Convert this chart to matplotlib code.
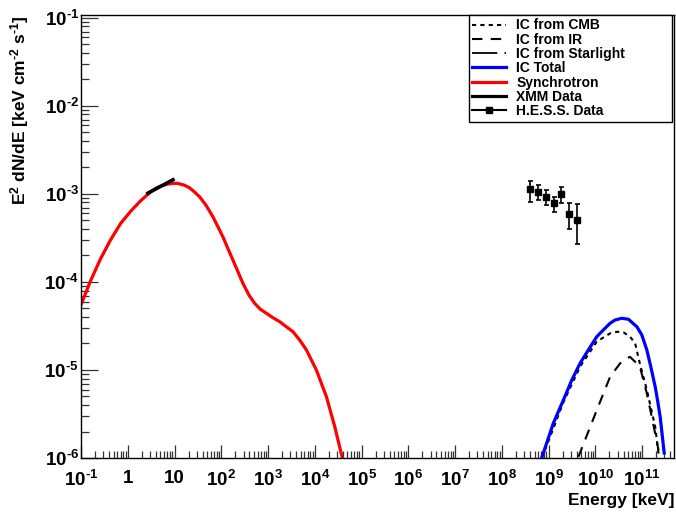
import numpy as np
import matplotlib
matplotlib.use("Agg")
import matplotlib.pyplot as plt
from matplotlib.lines import Line2D
from matplotlib.ticker import FixedLocator, FixedFormatter, NullFormatter

plt.rcParams['font.family'] = ['Liberation Sans', 'DejaVu Sans']
plt.rcParams['font.weight'] = 'bold'
plt.rcParams['mathtext.fontset'] = 'custom'
plt.rcParams['mathtext.rm'] = 'Liberation Sans:bold'
plt.rcParams['mathtext.it'] = 'Liberation Sans:bold:italic'
plt.rcParams['mathtext.bf'] = 'Liberation Sans:bold'

# ---------------- data ----------------
sync_E = [0.1, 0.16, 0.26, 0.43, 0.71, 1.16, 1.9, 3.1, 3.98, 5.1, 6.84, 9.1, 11.6,
          16.1, 20.7, 26.4, 34.3, 46.8, 66.1, 84.5, 108, 138, 177, 290, 390, 516,
          684, 920, 1270, 1770, 3410, 4750, 6610, 10800, 13800, 17700, 26700, 39000]
sync_F = [5.5e-5, 1.03e-4, 1.82e-4, 3.02e-4, 4.65e-4, 6.38e-4, 8.4e-4, 1.06e-3,
          1.16e-3, 1.23e-3, 1.29e-3, 1.32e-3, 1.32e-3, 1.26e-3, 1.18e-3, 1.06e-3,
          9.3e-4, 7.48e-4, 5.52e-4, 4.25e-4, 3.27e-4, 2.41e-4, 1.78e-4, 9.66e-5,
          7.1e-5, 5.73e-5, 4.9e-5, 4.41e-5, 3.93e-5, 3.54e-5, 2.72e-5, 2.19e-5,
          1.69e-5, 1.0e-5, 7.06e-6, 4.98e-6, 2.27e-6, 9.9e-7]

ictot_E = [7.1e8, 1.26e9, 2.07e9, 3.13e9, 4.7e9, 7.08e9, 1.07e10, 1.48e10, 2.07e10,
           2.64e10, 3.67e10, 5.09e10, 7.7e10, 9.84e10, 1.26e11, 1.53e11, 1.9e11,
           2.13e11, 2.43e11, 2.96e11]
ictot_F = [1.0e-6, 2.48e-6, 4.56e-6, 7.69e-6, 1.19e-5, 1.69e-5, 2.39e-5, 2.85e-5,
           3.4e-5, 3.7e-5, 3.87e-5, 3.77e-5, 3.1e-5, 2.5e-5, 1.69e-5, 1.09e-5,
           6.46e-6, 4.56e-6, 2.94e-6, 1.14e-6]

cmb_E = [7.2e8, 2.07e9, 4.7e9, 1.07e10, 2.07e10, 2.95e10, 3.98e10, 5.5e10, 7.08e10,
         8.9e10, 1.26e11, 1.9e11, 2.24e11]
cmb_F = [1.0e-6, 4.3e-6, 1.09e-5, 2.1e-5, 2.61e-5, 2.72e-5, 2.68e-5, 2.39e-5,
         2.01e-5, 1.19e-5, 5.93e-6, 2.27e-6, 1.12e-6]

ir_E = [4.34e9, 1.07e10, 2.07e10, 3.38e10, 4.68e10, 5.5e10, 8.9e10, 1.26e11, 1.9e11, 2.24e11]
ir_F = [1.03e-6, 3.5e-6, 8.4e-6, 1.19e-5, 1.36e-5, 1.41e-5, 1.1e-5, 5.43e-6, 1.9e-6, 1.23e-6]

xmm_E = [2.5, 10.0]
xmm_F = [1.0e-3, 1.48e-3]

hess_E = [4.0e8, 6.0e8, 8.8e8, 1.29e9, 1.87e9, 2.77e9, 4.06e9]
hess_F = [1.13e-3, 1.06e-3, 9.3e-4, 7.83e-4, 1.0e-3, 5.93e-4, 5.07e-4]
hess_hi = [1.42e-3, 1.26e-3, 1.11e-3, 9.3e-4, 1.21e-3, 7.83e-4, 7.64e-4]
hess_lo = [8.17e-4, 8.55e-4, 7.5e-4, 6.2e-4, 7.96e-4, 3.97e-4, 2.7e-4]

x_ticks = [1e-1, 1, 10, 1e2, 1e3, 1e4, 1e5, 1e6, 1e7, 1e8, 1e9, 1e10, 1e11]
x_labels = [r'$\mathdefault{10^{\text{-}1}}$', '1', '10', r'$\mathdefault{10^{2}}$',
            r'$\mathdefault{10^{3}}$', r'$\mathdefault{10^{4}}$', r'$\mathdefault{10^{5}}$',
            r'$\mathdefault{10^{6}}$', r'$\mathdefault{10^{7}}$', r'$\mathdefault{10^{8}}$',
            r'$\mathdefault{10^{9}}$', r'$\mathdefault{10^{10}}$', r'$\mathdefault{10^{11}}$']
y_ticks = [1e-6, 1e-5, 1e-4, 1e-3, 1e-2, 1e-1]
y_labels = [r'$\mathdefault{10^{\text{-}6}}$', r'$\mathdefault{10^{\text{-}5}}$',
            r'$\mathdefault{10^{\text{-}4}}$', r'$\mathdefault{10^{\text{-}3}}$',
            r'$\mathdefault{10^{\text{-}2}}$', r'$\mathdefault{10^{\text{-}1}}$']

legend_labels = ['IC from CMB', 'IC from IR', 'IC from Starlight', 'IC Total',
                 'Synchrotron', 'XMM Data', 'H.E.S.S. Data']

# ---------------- figure ----------------
W, H = 676, 512
fig = plt.figure(figsize=(W / 100, H / 100), dpi=100)
ax = fig.add_axes([81 / W, 1 - 458 / H, 593 / W, 443 / H])
ax.set_xscale('log')
ax.set_yscale('log')
ax.set_xlim(1e-1, 4.8e11)
ax.set_ylim(1e-6, 1.08e-1)

ax.plot(cmb_E, cmb_F, color='black', lw=1.5, ls=(0, (2, 2)))
ax.plot(ir_E, ir_F, color='black', lw=1.5, ls=(0, (5, 4)))
ax.plot(ictot_E, ictot_F, color='#0000ff', lw=2.3, solid_joinstyle='round')
ax.plot(sync_E, sync_F, color='#ff0000', lw=2.3, solid_joinstyle='round')
ax.plot(xmm_E, xmm_F, color='black', lw=2.6, solid_capstyle='butt')

hess_F_arr = np.array(hess_F)
yerr = [hess_F_arr - np.array(hess_lo), np.array(hess_hi) - hess_F_arr]
ax.errorbar(hess_E, hess_F, yerr=yerr, fmt='s', color='black', ms=4.3,
            elinewidth=1.2, capsize=1.8, capthick=1.2, zorder=5)

# ticks
ax.xaxis.set_major_locator(FixedLocator(x_ticks))
ax.xaxis.set_major_formatter(FixedFormatter(x_labels))
ax.yaxis.set_major_locator(FixedLocator(y_ticks))
ax.yaxis.set_major_formatter(FixedFormatter(y_labels))
xminor = [m * 10.0 ** d for d in range(-1, 12) for m in range(2, 10)]
yminor = [m * 10.0 ** d for d in range(-6, -1) for m in range(2, 10)]
ax.xaxis.set_minor_locator(FixedLocator(xminor))
ax.yaxis.set_minor_locator(FixedLocator(yminor))
ax.xaxis.set_minor_formatter(NullFormatter())
ax.yaxis.set_minor_formatter(NullFormatter())
ax.tick_params(axis='both', which='both', direction='in', top=False, right=False,
               labelsize=13.5, width=0.9, color='#333333')
ax.tick_params(axis='x', which='major', length=9.5, pad=8.5)
ax.tick_params(axis='x', which='minor', length=5)
ax.tick_params(axis='y', which='major', length=12, pad=1.5)
ax.tick_params(axis='y', which='minor', length=6)
for s in ax.spines.values():
    s.set_linewidth(1.0)
    s.set_color('black')

fig.text(20 / W, 1 - 15 / H, r'E$^{2}$ dN/dE [keV cm$^{\text{-}2}$ s$^{\text{-}1}$]',
         rotation=90, ha='center', va='top', fontsize=12.5, fontweight='bold')
fig.text(674 / W, 1 - 500 / H, 'Energy [keV]', ha='right', va='center',
         fontsize=12.5, fontweight='bold')

# legend
handles = [
    Line2D([], [], color='black', lw=1.5, ls=(0, (2, 2))),
    Line2D([], [], color='black', lw=1.5, ls=(0, (5, 4))),
    Line2D([], [], color='black', lw=1.3, ls=(0, (14, 4, 2, 4))),
    Line2D([], [], color='#0000ff', lw=2.3),
    Line2D([], [], color='#ff0000', lw=2.3),
    Line2D([], [], color='black', lw=2.3),
    Line2D([], [], color='black', lw=1.5, marker='s', ms=4),
]
leg = fig.legend(handles, legend_labels, loc='upper left',
                 bbox_to_anchor=(469 / W, 1 - 118 / H, 203 / W, 103 / H),
                 mode='expand', borderaxespad=0, fontsize=10, frameon=True,
                 fancybox=False, edgecolor='black', framealpha=1,
                 handlelength=2.4, handletextpad=0.75, labelspacing=0.02,
                 borderpad=0.25)
leg.get_frame().set_linewidth(1.0)
for t in leg.get_texts():
    t.set_fontweight('bold')

fig.savefig('out.png', dpi=100)
